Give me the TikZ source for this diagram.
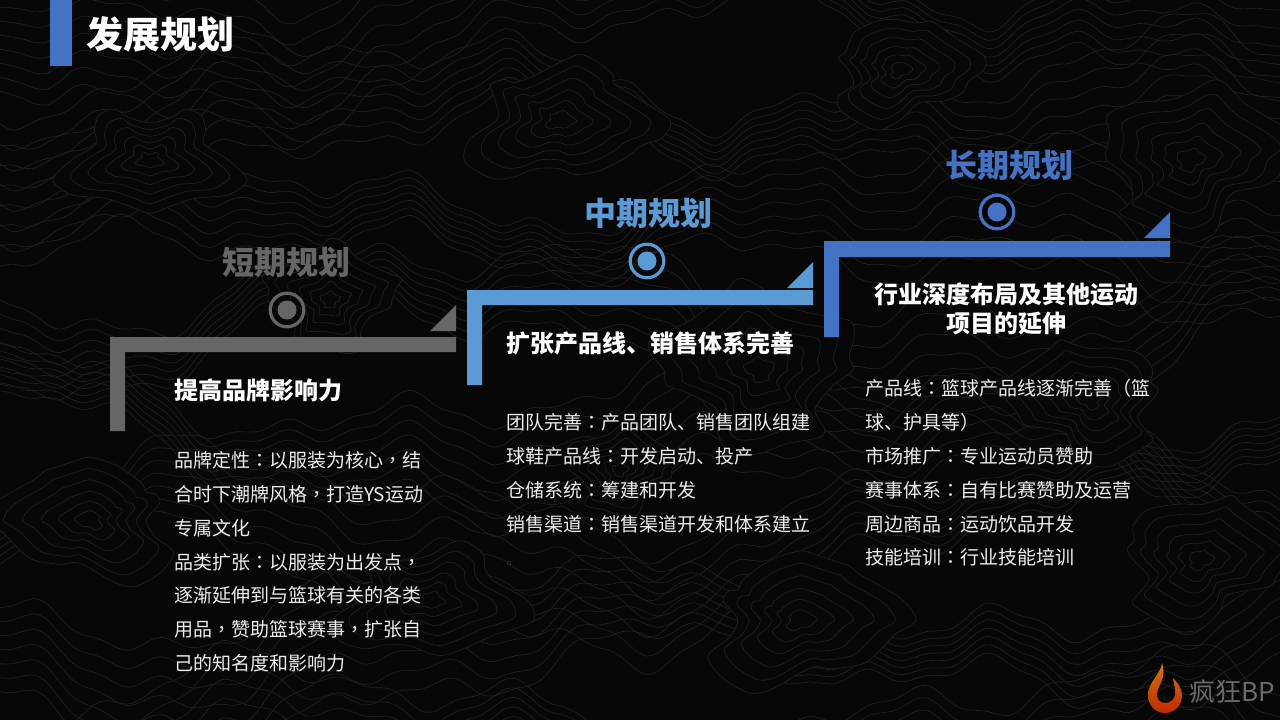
\documentclass[tikz,border=0pt]{standalone}
\usepackage{fontspec}
\setmainfont{Noto Sans CJK SC}
\newfontfamily\tcfont{Noto Sans CJK TC}
\newcommand{\cn}{{\tcfont\symbol{"FF1A}}}
\newcommand{\cm}{{\tcfont\symbol{"FF0C}}}
\newcommand{\lp}{{\tcfont\symbol{"FF08}}}
\newcommand{\rp}{{\tcfont\symbol{"FF09}}}
\definecolor{bgc}{HTML}{070707}
\definecolor{linec}{HTML}{202020}
\definecolor{grayc}{HTML}{666666}
\definecolor{midc}{HTML}{5B9BD5}
\definecolor{darkc}{HTML}{4472C4}
\definecolor{bodyc}{HTML}{EDEDED}
\tikzset{
  x=1pt,y=-1pt,
  bar/.style={fill=#1,draw=none},
  ringo/.style={draw=#1,line width=3.2pt,fill=none},
  heading/.style={font=\fontsize{32}{36}\selectfont\bfseries,text=#1,inner sep=0},
  subhead/.style={font=\fontsize{24}{29}\selectfont\bfseries,text=white,inner sep=0},
  bodytext/.style={font=\fontsize{19}{33.9}\selectfont,text=bodyc,inner sep=0,anchor=north west,align=left},
}
\begin{document}
\begin{tikzpicture}
\useasboundingbox (0,0) rectangle (1280,720);
\fill[bgc] (0,0) rectangle (1280,720);
\begin{scope}
\clip (0,0) rectangle (1280,720);
% contour texture
\foreach \b/\yy/\pa/\pb in {0/-30/0.3/1.7,1/75/2.1/0.4,2/180/4.0/2.9,3/285/1.2/5.0,4/390/5.3/3.3,5/495/3.1/1.1,6/600/0.8/4.2,7/705/2.6/0.2}{
  \foreach \k in {0,1,2,3,4,5,6}{
    \draw[linec,line width=.7pt,smooth]
      plot[domain=0:1280,samples=110]
      (\x,{\yy+\k*14*(1+.5*sin(\x*.31+60*\b))+36*sin(\x*.42+\pa*57)+20*sin(\x*1.13+\pb*57)+10*sin(\x*2.6+\pa*\pb*57)+4*sin(\x*6.1+\pb*90)});
  }
}
\foreach \cx/\cy/\rr/\ph in {150/160/58/0,560/120/64/40,900/70/50/90,1190/160/66/130,330/300/46/170,760/370/70/210,1090/400/54/250,90/520/60/290,430/600/62/20,800/620/66/70,1200/560/58/110,620/470/38/150}{
  \foreach \k/\fc in {1/bgc,.82/none,.64/none,.46/none,.3/none,.15/none}{
    \draw[linec,fill=\fc,line width=.7pt,smooth cycle]
      plot[domain=0:345,samples=24]
      ({\cx+\k*\rr*1.35*cos(\x)*(1+.24*sin(3*\x+\ph)+.12*sin(7*\x+2*\ph))},{\cy+\k*\rr*sin(\x)*(1+.22*cos(2*\x+\ph)+.14*sin(5*\x+3*\ph))});
  }
}
\end{scope}
% title
\fill[darkc] (50,0) rectangle (72,66);
\node[inner sep=0,font=\fontsize{37}{40}\selectfont\bfseries,text=white] (title) at (160.5,34) {发展规划};
% short term
\fill[bar=grayc] (110,337) -- (456,337) -- (456,352) -- (125,352) -- (125,431) -- (110,431) -- cycle;
\fill[bar=grayc] (430,331) -- (456,331) -- (456,305) -- cycle;
\draw[ringo=grayc] (287,310) circle[radius=16.8];
\fill[grayc] (287,310) circle[radius=9.5];
\node[heading=grayc] (h1) at (286,262) {短期规划};
\node[subhead,anchor=west] (s1) at (174,390) {提高品牌影响力};
\node[bodytext] (b1) at (174,451) {品牌定性\cn 以服装为核心\cm 结\\合时下潮牌风格\cm 打造YS运动\\专属文化\\品类扩张\cn 以服装为出发点\cm \\逐渐延伸到与篮球有关的各类\\用品\cm 赞助篮球赛事\cm 扩张自\\己的知名度和影响力};
% mid term
\fill[bar=midc] (467,290) -- (813,290) -- (813,305) -- (482,305) -- (482,385) -- (467,385) -- cycle;
\fill[bar=midc] (787,288) -- (813,288) -- (813,262) -- cycle;
\draw[ringo=midc] (647,261) circle[radius=16.8];
\fill[midc] (647,261) circle[radius=9.5];
\node[heading=midc] (h2) at (648,213) {中期规划};
\node[subhead,anchor=west] (s2) at (506,343) {扩张产品线、销售体系完善};
\node[bodytext] (b2) at (506,413) {团队完善\cn 产品团队、销售团队组建\\球鞋产品线\cn 开发启动、投产\\仓储系统\cn 筹建和开发\\销售渠道\cn 销售渠道开发和体系建立};
\draw[grayc!50!bgc,line width=.6pt] (509,563) circle[radius=2];
% long term
\fill[bar=darkc] (824,241) -- (1170,241) -- (1170,257) -- (839,257) -- (839,337) -- (824,337) -- cycle;
\fill[bar=darkc] (1144,238) -- (1170,238) -- (1170,212) -- cycle;
\draw[ringo=darkc] (997,212) circle[radius=16.8];
\fill[darkc] (997,212) circle[radius=9.5];
\node[heading=darkc] (h3) at (1009,165) {长期规划};
\node[subhead,align=center] (s3) at (1006,308.5) {行业深度布局及其他运动\\项目的延伸};
\node[bodytext] (b3) at (865,379) {产品线\cn 篮球产品线逐渐完善\lp 篮\\球、护具等\rp \\市场推广\cn 专业运动员赞助\\赛事体系\cn 自有比赛赞助及运营\\周边商品\cn 运动饮品开发\\技能培训\cn 行业技能培训};
% logo
\shade[top color=orange!75!brown!90!black,bottom color=red!55!orange!75!black,even odd rule]
 (1162,663) .. controls (1161,674) and (1148,682) .. (1148,695)
 .. controls (1148,706) and (1156,713) .. (1165,713)
 .. controls (1175,713) and (1182,705) .. (1182,695)
 .. controls (1182,688) and (1177,682) .. (1173,678)
 .. controls (1174,686) and (1176,690) .. (1175,695)
 .. controls (1174,700) and (1170,703) .. (1165,703)
 .. controls (1160,703) and (1157,699) .. (1157,695)
 .. controls (1157,685) and (1167,680) .. (1162,663) -- cycle;
\node[inner sep=0,anchor=west,font=\fontsize{26}{30}\selectfont,text=white!42!black] (logo) at (1189,692) {疯狂BP};
\end{tikzpicture}
\end{document}
